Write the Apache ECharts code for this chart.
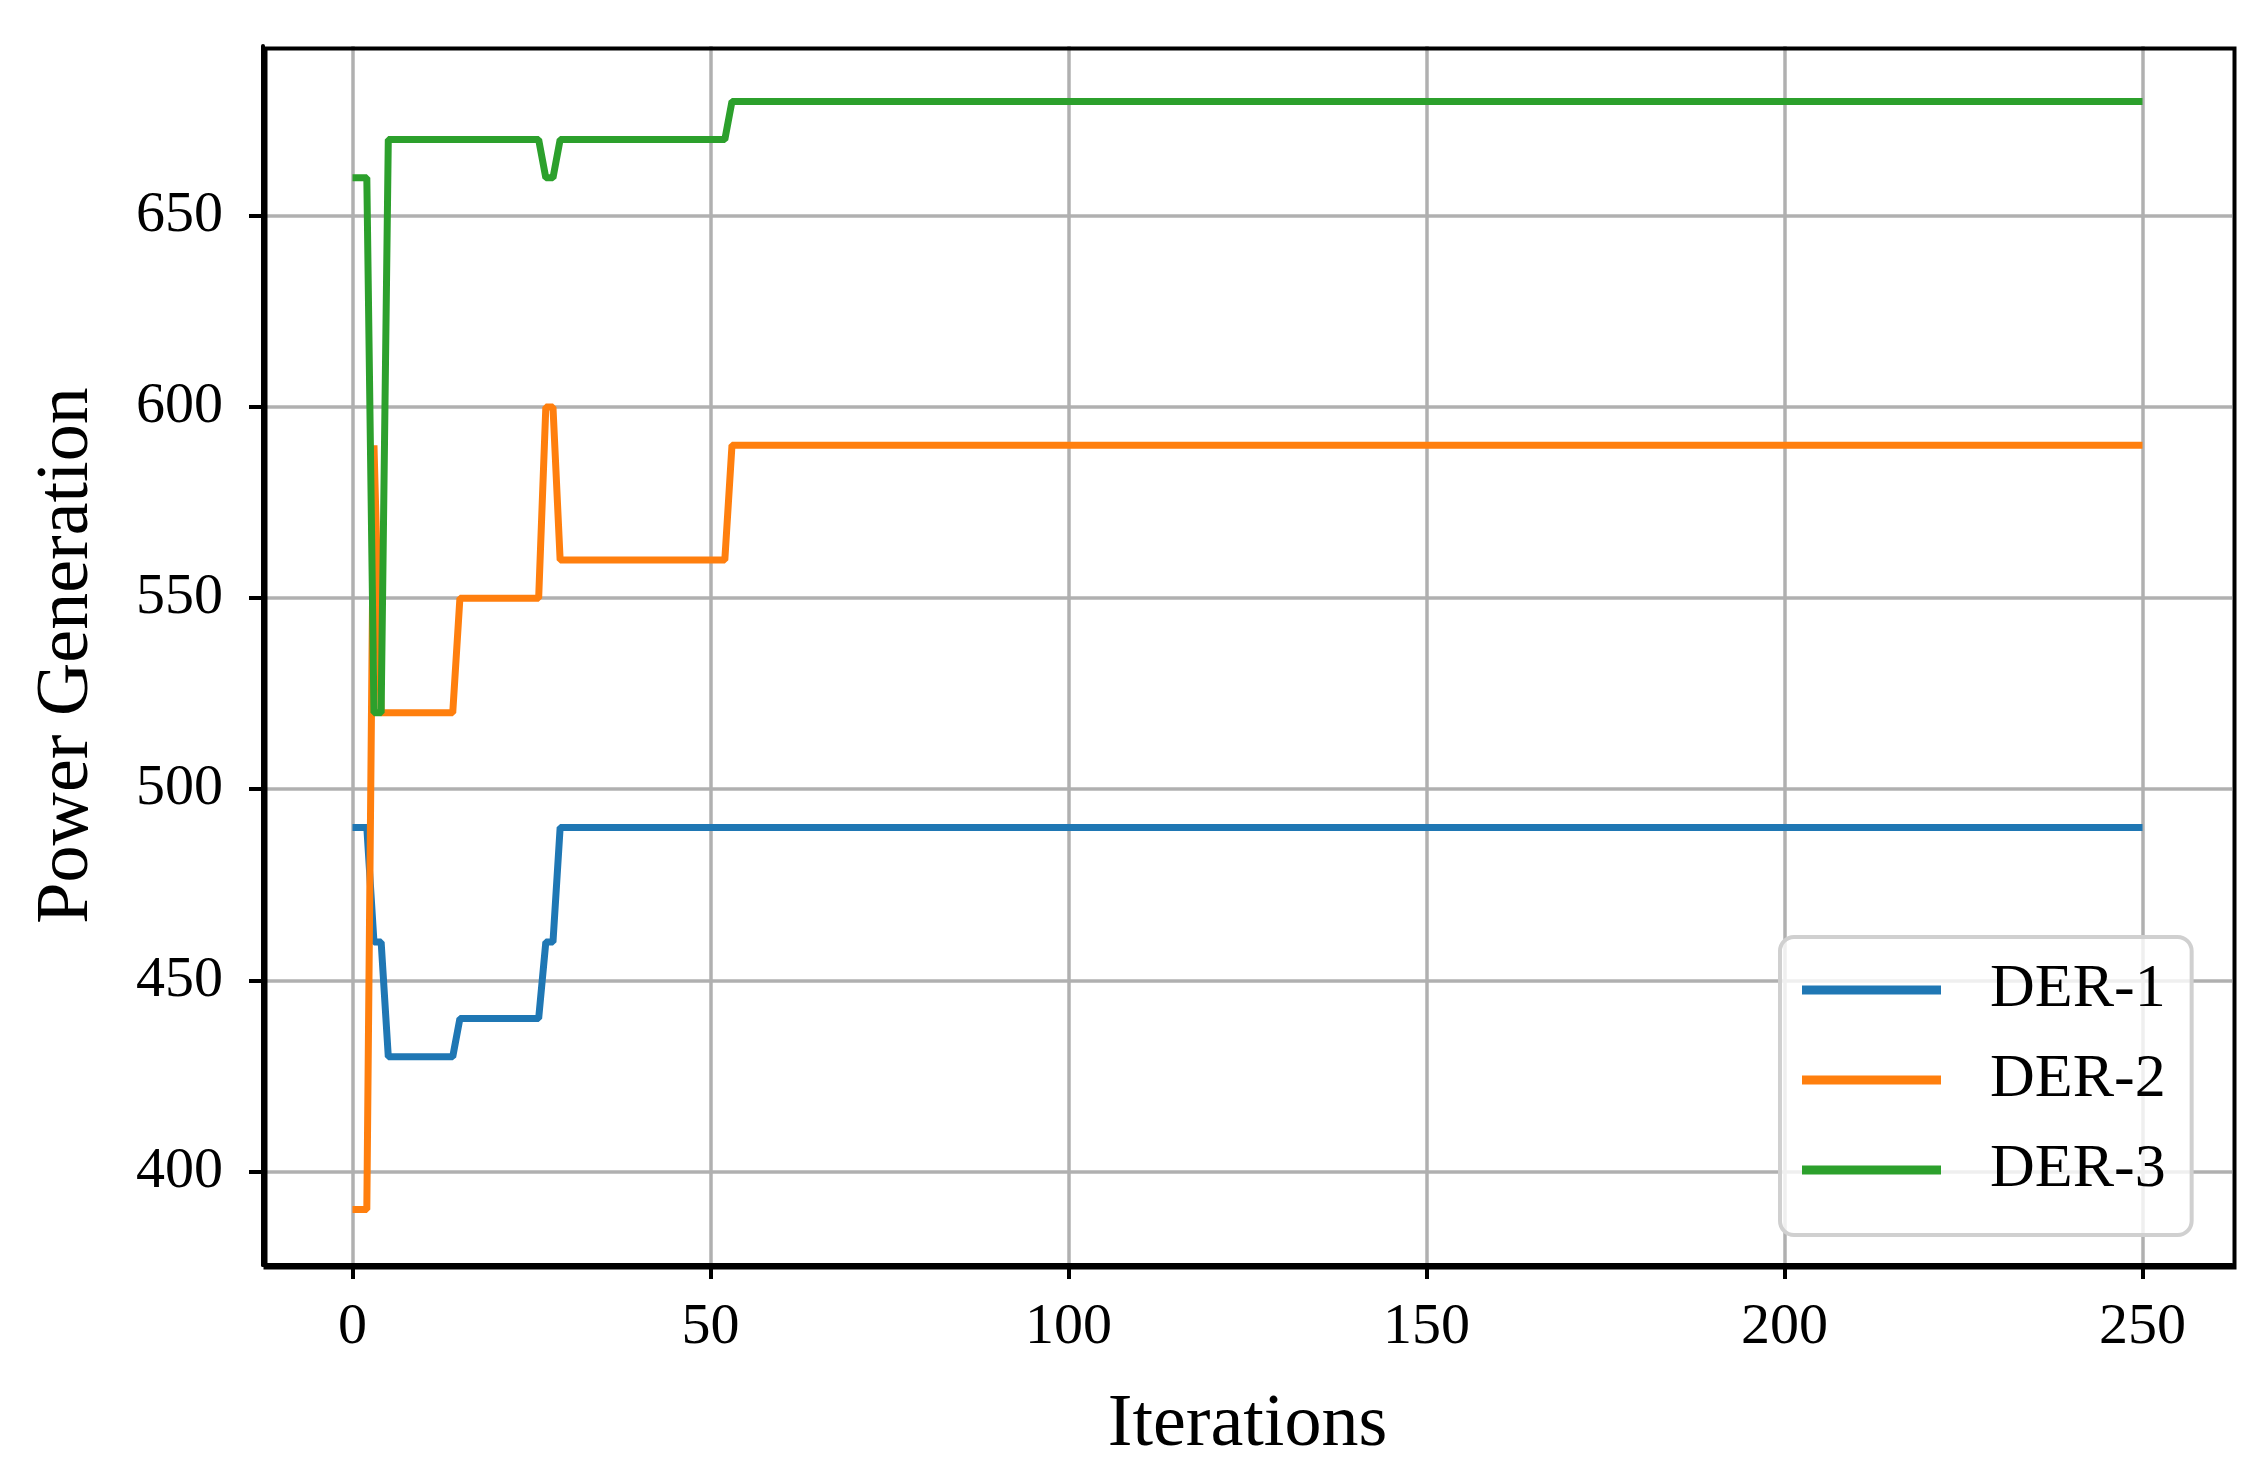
<!DOCTYPE html>
<html>
<head>
<meta charset="utf-8">
<script src="https://cdn.jsdelivr.net/npm/echarts@6/dist/echarts.min.js"></script>
<style>
html, body { margin: 0; padding: 0; background: #fff; }
#chart { width: 2265px; height: 1471px; }
</style>
</head>
<body>
<div id="chart"></div>
<script>
// early iterations; values hold flat afterwards
var der1Early = [490, 490, 490, 460, 460, 430, 430, 430, 430, 430, 430, 430, 430, 430, 430,
    440, 440, 440, 440, 440, 440, 440, 440, 440, 440, 440, 440, 460, 460, 490];
var der2Early = [390, 390, 390, 590, 520, 520, 520, 520, 520, 520, 520, 520, 520, 520, 520,
    550, 550, 550, 550, 550, 550, 550, 550, 550, 550, 550, 550, 600, 600, 560];
var der3Early = [660, 660, 660, 520, 520, 670, 670, 670, 670, 670, 670, 670, 670, 670, 670,
    670, 670, 670, 670, 670, 670, 670, 670, 670, 670, 670, 670, 660, 660, 670];
var der1Later = [[30, 490]];
var der2Later = [[30, 560], [53, 590]];
var der3Later = [[30, 670], [53, 680]];
var lastIteration = 250;
var xTicks = [0, 50, 100, 150, 200, 250];
var yTicks = [400, 450, 500, 550, 600, 650];
var seriesNames = ['DER-1', 'DER-2', 'DER-3'];
var colors = ['#1f77b4', '#ff7f0e', '#2ca02c'];

function buildSeries(early, later) {
    var data = [];
    for (var i = 0; i < early.length; i++) {
        data.push([i, early[i]]);
    }
    var current = early[early.length - 1];
    var k = 0;
    for (var it = early.length; it <= lastIteration; it++) {
        while (k < later.length && later[k][0] <= it) {
            current = later[k][1];
            k++;
        }
        data.push([it, current]);
    }
    return data;
}

var chartDom = document.getElementById('chart');
var chartInstance = echarts.init(chartDom);
var font = 'Liberation Serif';

var lineData = [
    buildSeries(der1Early, der1Later),
    buildSeries(der2Early, der2Later),
    buildSeries(der3Early, der3Later)
];

var series = [];
for (var s = 0; s < 3; s++) {
    series.push({
        name: seriesNames[s],
        type: 'line',
        symbol: 'none',
        animation: false,
        lineStyle: { width: 7, color: colors[s] },
        itemStyle: { color: colors[s] },
        data: lineData[s]
    });
}

var chartOption = {
    color: colors,
    grid: { left: 263, top: 46, right: 33, bottom: 206, show: false },
    legend: {
        orient: 'vertical',
        left: 1780,
        top: 937,
        data: seriesNames,
        icon: 'rect',
        itemWidth: 139,
        itemHeight: 9,
        itemGap: 28,
        padding: [22, 26, 34, 22],
        borderColor: '#d0d0d0',
        borderWidth: 4,
        borderRadius: 14,
        backgroundColor: 'rgba(255,255,255,0.8)',
        textStyle: { fontFamily: font, fontSize: 62, color: '#000', padding: [0, 0, 0, 44] }
    },
    xAxis: {
        type: 'value',
        min: -12.5,
        max: 262.5,
        name: 'Iterations',
        nameLocation: 'middle',
        nameGap: 124,
        nameTextStyle: { fontFamily: font, fontSize: 74, color: '#000' },
        axisLine: { show: true, onZero: false, lineStyle: { color: '#000', width: 4 } },
        axisTick: { show: true, length: 14, lineStyle: { color: '#000', width: 4 }, customValues: xTicks },
        axisLabel: { fontFamily: font, fontSize: 58, color: '#000', margin: 34, customValues: xTicks },
        splitLine: { show: true, lineStyle: { color: '#b0b0b0', width: 3.5 } }
    },
    yAxis: {
        type: 'value',
        min: 375.5,
        max: 694.5,
        name: 'Power Generation',
        nameLocation: 'middle',
        nameGap: 158,
        nameTextStyle: { fontFamily: font, fontSize: 74, color: '#000' },
        axisLine: { show: true, onZero: false, lineStyle: { color: '#000', width: 4 } },
        axisTick: { show: true, length: 14, lineStyle: { color: '#000', width: 4 }, customValues: yTicks },
        axisLabel: { fontFamily: font, fontSize: 58, color: '#000', margin: 40, customValues: yTicks },
        splitLine: { show: true, lineStyle: { color: '#b0b0b0', width: 3.5 } }
    },
    graphic: [{
        type: 'rect',
        left: 263,
        top: 46,
        shape: { width: 2232 - 263, height: 1265 - 46 },
        style: { fill: 'none', stroke: '#000', lineWidth: 4 },
        silent: true,
        z: 100
    }],
    series: series
};

chartInstance.setOption(chartOption);
</script>
</body>
</html>
